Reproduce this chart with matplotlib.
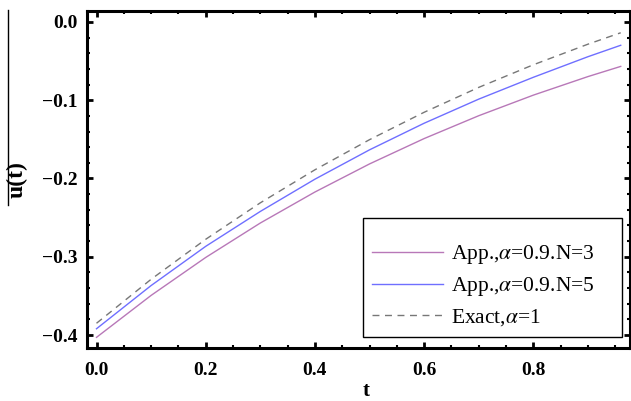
import matplotlib
matplotlib.use("Agg")
import matplotlib.pyplot as plt
from matplotlib.lines import Line2D
from matplotlib.ticker import MultipleLocator, FixedLocator

plt.rcParams['font.family'] = ['Liberation Serif', 'DejaVu Serif']
plt.rcParams['mathtext.fontset'] = 'stix'

t = [0.0, 0.1, 0.2, 0.3, 0.4, 0.5, 0.6, 0.7, 0.8, 0.9, 0.96]
u_n3 = [-0.403, -0.3494, -0.3009, -0.2569, -0.2173, -0.1814, -0.1490, -0.1198, -0.0935, -0.0698, -0.0568]
u_n5 = [-0.392, -0.3368, -0.2867, -0.2421, -0.2009, -0.1634, -0.1294, -0.0986, -0.0707, -0.0444, -0.0298]
u_exact = [-0.385, -0.3288, -0.2777, -0.2311, -0.1889, -0.1504, -0.1154, -0.0836, -0.0547, -0.0284, -0.0138]

labels = [r"App.,$\alpha$=0.9.N=3", r"App.,$\alpha$=0.9.N=5", r"Exact,$\alpha$=1"]
xticks = [0.0, 0.2, 0.4, 0.6, 0.8]
yticks = [0.0, -0.1, -0.2, -0.3, -0.4]

W, H = 631, 401
fig = plt.figure(figsize=(W / 100, H / 100), dpi=100)
L, R, T, B = 87, 630, 11, 348
ax = fig.add_axes([L / W, 1 - B / H, (R - L) / W, (B - T) / H])

ax.plot(t, u_n3, color='#b878b8', lw=1.0, label=labels[0])
ax.plot(t, u_n5, color='#6f6fff', lw=1.0, label=labels[1])
ax.plot(t, u_exact, color='#777777', lw=1.0, ls=(0, (5, 4)), label=labels[2])

ax.set_xlim(-0.0174, 0.977)
ax.set_ylim(-0.4166, 0.014)

ax.xaxis.set_major_locator(FixedLocator(xticks))
ax.yaxis.set_major_locator(FixedLocator(yticks))
ax.xaxis.set_minor_locator(MultipleLocator(0.05))
ax.yaxis.set_minor_locator(MultipleLocator(0.02))
ax.set_xticklabels([f"{v:.1f}" for v in xticks])
ax.set_yticklabels([f"{v:.1f}".replace('-', '\u2212') for v in yticks])

for s in ax.spines.values():
    s.set_linewidth(2.2)
ax.tick_params(which='both', direction='in', top=True, right=True, colors='black')
ax.tick_params(which='major', length=4, width=2, labelsize=14)
ax.tick_params(axis='x', which='major', pad=10)
ax.tick_params(axis='y', which='major', pad=7)
ax.tick_params(which='minor', length=2.5, width=1.5)
for lab in ax.get_xticklabels() + ax.get_yticklabels():
    lab.set_fontweight('bold')

x0 = (363 - L) / (R - L)
x1 = (622 - L) / (R - L)
y0 = (B - 337) / (B - T)
y1 = (B - 221) / (B - T)
leg = ax.legend(loc='lower left', bbox_to_anchor=(x0, y0, x1 - x0, y1 - y0), mode='expand',
                borderaxespad=0, fancybox=False, framealpha=1, edgecolor='black',
                fontsize=15.5, handlelength=3.3, labelspacing=0.42, borderpad=0.4,
                handletextpad=0.4, title=' ', title_fontsize=6)
leg.get_frame().set_linewidth(1.0)

fig.text(17.5 / W, 1 - 180 / H, 'u(t)', rotation=90, ha='center', va='center',
         fontsize=17, fontweight='bold')
fig.add_artist(Line2D([8 / W, 8 / W], [1 - 10 / H, 1 - 205 / H], color='black', lw=1.0))
fig.text(366 / W, 1 - 391 / H, 't', ha='center', va='center', fontsize=15, fontweight='bold')

fig.savefig('out.png', dpi=100)
